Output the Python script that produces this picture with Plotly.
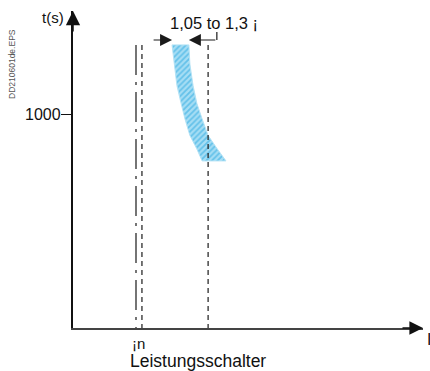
import math
import plotly.graph_objects as go

# ---- data (schematic: current in arbitrary units, time in seconds) ----
band_t = [9300, 5000, 2500, 1400, 850, 500, 330, 220]
band_left_x = [28.3, 28.9, 29.7, 30.9, 32.0, 33.4, 35.3, 36.9]
band_right_x = [33.1, 33.4, 34.3, 35.4, 36.9, 38.6, 41.1, 43.7]

in_x = 18.0          # In (dash-dot)
dashed_x = [19.7, 38.6]
line_top_t = 9300
axis_bottom_t = 1

arrow_t = 10900
bracket_top_t = 14100
left_arrow_x = [22.6, 28.3]    # tail, tip
right_arrow_x = [41.1, 33.1]   # tail, tip

y_tick_vals = [1000]
y_tick_text = ["1000"]

FONT = "Liberation Sans, Arial, Helvetica, sans-serif"

fig = go.Figure()

# hatched band
poly_x = band_left_x + band_right_x[::-1] + [band_left_x[0]]
poly_t = band_t + band_t[::-1] + [band_t[0]]
fig.add_trace(go.Scatter(
    x=poly_x, y=poly_t, mode="lines", fill="toself",
    line=dict(color="#b3e2f5", width=1),
    fillcolor="#a6ddf4",
    fillpattern=dict(shape="/", bgcolor="#a6ddf4", fgcolor="#22a6df",
                     size=4, solidity=0.45),
    hoverinfo="skip", showlegend=False))

# In dash-dot line
fig.add_trace(go.Scatter(
    x=[in_x, in_x], y=[line_top_t, axis_bottom_t], mode="lines",
    line=dict(color="#1a1a1a", width=1.2, dash="30px,7px,3px,7px"),
    hoverinfo="skip", showlegend=False))

# dashed lines
for dx in dashed_x:
    fig.add_trace(go.Scatter(
        x=[dx, dx], y=[line_top_t, axis_bottom_t], mode="lines",
        line=dict(color="#1a1a1a", width=1.2, dash="5px,4px"),
        hoverinfo="skip", showlegend=False))

# bracket for right arrow
fig.add_trace(go.Scatter(
    x=[right_arrow_x[0], right_arrow_x[0]], y=[arrow_t, bracket_top_t], mode="lines",
    line=dict(color="#1a1a1a", width=1.2),
    hoverinfo="skip", showlegend=False))

# body margin is removed by post_script, so figure sits at the page origin
OFF = 0
W, H = 430 - OFF, 371 - OFF
L, R, T, B = 73 - OFF, 7, 11 - OFF, 43
pw, ph = W - L - R, H - T - B

def px(xp):
    return (xp - OFF - L) / pw

def py(yp):
    return (H - B - (yp - OFF)) / ph

ann = []
# dimension arrows
la = math.log10(arrow_t)
for tail, tip in (left_arrow_x, right_arrow_x):
    ann.append(dict(x=tip, y=la, ax=tail, ay=la,
                    xref="x", yref="y", axref="x", ayref="y", text="",
                    showarrow=True, arrowhead=2, arrowsize=2, arrowwidth=1.2,
                    arrowcolor="#1a1a1a", standoff=0))
# axis arrowheads
ann.append(dict(x=0, y=1, xref="paper", yref="paper", ax=0, ay=22, text="",
                showarrow=True, arrowhead=2, arrowsize=1.9, arrowwidth=1.5,
                arrowcolor="#111111", standoff=0))
ann.append(dict(x=1, y=0, xref="paper", yref="paper", ax=-22, ay=0, text="",
                showarrow=True, arrowhead=2, arrowsize=1.7, arrowwidth=1.6,
                arrowcolor="#111111", standoff=0))

def txt(s, xp, yp, size, xanchor="center", color="#111111", angle=0):
    ann.append(dict(text=s, x=px(xp), y=py(yp), xref="paper", yref="paper",
                    showarrow=False, xanchor=xanchor, yanchor="middle",
                    textangle=angle,
                    font=dict(family=FONT, size=size, color=color)))

txt("t(s)", 53, 18, 15)
txt("1,05 to 1,3 \u00a1", 168, 22.5, 16.5, xanchor="left")
txt(y_tick_text[0], 63, 114, 16, xanchor="right")
txt("\u00a1n", 130, 343, 15, xanchor="left")
txt("Leistungsschalter", 128, 361, 17.5, xanchor="left")
txt("I", 425, 339, 16, xanchor="left")
txt("DD210601de.EPS", 12, 64, 8.5, color="#555555", angle=-90)

fig.update_layout(
    width=W, height=H,
    margin=dict(l=L, r=R, t=T, b=B),
    paper_bgcolor="white", plot_bgcolor="white",
    showlegend=False,
    annotations=ann,
    xaxis=dict(range=[0, 100], showline=True, linecolor="#444444", linewidth=2,
               showticklabels=False, ticks="", showgrid=False, zeroline=False,
               fixedrange=True),
    yaxis=dict(type="log", range=[0, 4.444], showline=True, linecolor="#111111",
               linewidth=1.5, tickvals=y_tick_vals, ticktext=y_tick_text,
               showticklabels=False,
               ticks="outside", ticklen=10, tickwidth=1, tickcolor="#111111",
               showgrid=False, zeroline=False, fixedrange=True),
)

fig.write_html(
    "out.html",
    config={"displayModeBar": False},
    post_script="document.body.style.margin='0';document.body.style.overflow='hidden';",
)
